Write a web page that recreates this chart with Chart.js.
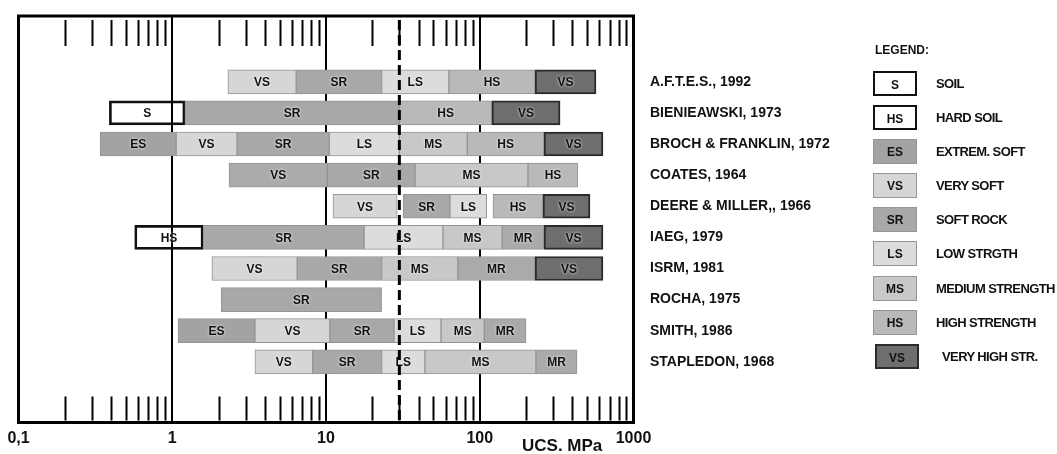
<!DOCTYPE html>
<html>
<head>
<meta charset="utf-8">
<script src="https://cdn.jsdelivr.net/npm/chart.js@4.4.1/dist/chart.umd.min.js"></script>
<style>
  html, body { margin: 0; padding: 0; background: #fff; }
  #wrap { position: relative; width: 1057px; height: 454px; overflow: hidden; }
  #wrap canvas { position: absolute; left: 0; top: 0; }
  #legend { position: absolute; left: 873px; top: 44px; font-family: "Liberation Sans", Arial, sans-serif; font-weight: bold; color: #111; }
  #legend .title { font-size: 12px; height: 27px; line-height: 13px; margin-left: 2px; }
  #legend .item { position: relative; height: 34.1px; }
  #legend .box { position: absolute; left: 0; top: 0; width: 44px; height: 25px; box-sizing: border-box; text-align: center; line-height: 24px; font-size: 12px; }
  #legend .lbl { position: absolute; left: 63px; top: 0; line-height: 25px; font-size: 13px; letter-spacing: -0.6px; white-space: nowrap; }
</style>
</head>
<body>
<div id="wrap">
  <canvas id="c" width="1057" height="454"></canvas>
  <div id="legend"></div>
</div>
<script>
// ---- data ----
const rowNames = ['A.F.T.E.S., 1992', 'BIENIEAWSKI, 1973', 'BROCH & FRANKLIN, 1972', 'COATES, 1964',
  'DEERE & MILLER,, 1966', 'IAEG, 1979', 'ISRM, 1981', 'ROCHA, 1975', 'SMITH, 1986', 'STAPLEDON, 1968'];

// [class, from MPa, to MPa]
const aftes      = [['VS', 2.3, 6.4], ['SR', 6.4, 23], ['LS', 23, 63], ['HS', 63, 229], ['VHS', 229, 570]];
const bieniawski = [['S', 0.39, 1.21], ['SR', 1.21, 30], ['HS', 30, 120], ['VHS', 120, 333]];
const broch      = [['ES', 0.34, 1.06], ['VS', 1.06, 2.64], ['SR', 2.64, 10.5], ['LS', 10.5, 30], ['MS', 30, 83], ['HS', 83, 262], ['VHS', 262, 633]];
const coates     = [['VSg', 2.34, 10.2], ['SR', 10.2, 38], ['MS', 38, 206], ['HS', 206, 435]];
const deere      = [['VS', 11.1, 29], ['SR', 31.7, 64], ['LS', 64, 111], ['HS', 122, 258], ['VHS', 258, 521]];
const iaeg       = [['HSs', 0.57, 1.59], ['SR', 1.59, 17.7], ['LS', 17.7, 57.7], ['MS', 57.7, 140], ['MR', 140, 262], ['VHS', 262, 633]];
const isrm       = [['VS', 1.81, 6.5], ['SR', 6.5, 23], ['MS', 23, 72], ['MR', 72, 229], ['VHS', 229, 633]];
const rocha      = [['SR', 2.08, 23]];
const smith      = [['ES', 1.09, 3.45], ['VS', 3.45, 10.6], ['SR', 10.6, 27.7], ['LS', 27.7, 56], ['MS', 56, 107], ['MR', 107, 200]];
const stapledon  = [['VS', 3.45, 8.2], ['SR', 8.2, 23], ['LS', 23, 44], ['MS', 44, 232], ['MR', 232, 429]];

const xTickValues = [0.1, 1, 10, 100, 1000];
const referenceLine = 30;
const axisTitle = 'UCS. MPa';

const legendCodes = ['S', 'HSs', 'ES', 'VS', 'SR', 'LS', 'MS', 'HS', 'VHS'];
const legendNames = ['SOIL', 'HARD SOIL', 'EXTREM. SOFT', 'VERY SOFT', 'SOFT ROCK', 'LOW  STRGTH', 'MEDIUM STRENGTH', 'HIGH STRENGTH', 'VERY HIGH STR.'];

// ---- styles ----
const codeText = { S: 'S', HSs: 'HS', ES: 'ES', VS: 'VS', VSg: 'VS', SR: 'SR', LS: 'LS', MS: 'MS', HS: 'HS', MR: 'MR', VHS: 'VS' };
const fill = { S: 'rgba(255,255,255,0)', HSs: 'rgba(255,255,255,0)', ES: '#a3a3a3', VS: '#d6d6d6', VSg: '#ababab',
  SR: '#a8a8a8', LS: '#dcdcdc', MS: '#c8c8c8', HS: '#b9b9b9', MR: '#aaaaaa', VHS: '#6e6e6e' };
const edge = { S: '#111', HSs: '#111', VHS: '#2b2b2b' };
const edgeW = { S: 2, HSs: 2, VHS: 2 };

const rows = [aftes, bieniawski, broch, coates, deere, iaeg, isrm, rocha, smith, stapledon];

const datasets = rows.map((segs, i) => ({
  label: rowNames[i],
  data: segs.map(s => ({ x: [s[1], s[2]], y: i + 1 })),
  codes: segs.map(s => s[0]),
  backgroundColor: segs.map(s => fill[s[0]]),
  borderColor: segs.map(s => edge[s[0]] || '#959595'),
  borderWidth: segs.map(s => edgeW[s[0]] || 1),
  borderSkipped: false,
  barThickness: 24,
  grouped: false
}));

const FONT = '"Liberation Sans", Arial, sans-serif';

const decor = {
  id: 'decor',
  beforeDatasetsDraw(chart) {
    const { ctx, chartArea: a, scales: { x } } = chart;
    ctx.save();
    ctx.strokeStyle = '#000';
    ctx.lineWidth = 2;
    for (let d = 0.1; d < 1000; d *= 10) {
      for (let k = 2; k <= 9; k++) {
        const px = Math.round(x.getPixelForValue(k * d)) + 0.5;
        ctx.beginPath();
        ctx.moveTo(px, a.top + 4); ctx.lineTo(px, a.top + 30);
        ctx.moveTo(px, a.bottom - 26); ctx.lineTo(px, a.bottom - 2);
        ctx.stroke();
      }
    }
    ctx.restore();
  },
  afterDatasetsDraw(chart) {
    const { ctx, chartArea: a, scales: { x } } = chart;
    ctx.save();
    // segment labels
    ctx.font = 'bold 12px ' + FONT;
    ctx.textAlign = 'center';
    ctx.textBaseline = 'middle';
    chart.data.datasets.forEach((ds, di) => {
      const meta = chart.getDatasetMeta(di);
      meta.data.forEach((el, j) => {
        const cx = (el.x + el.base) / 2;
        const t = codeText[ds.codes[j]];
        ctx.shadowColor = 'rgba(255,255,255,0.9)';
        ctx.shadowBlur = 3;
        ctx.fillStyle = '#111';
        ctx.fillText(t, cx, el.y + 1);
      });
    });
    ctx.shadowBlur = 0;
    // dashed reference line
    const rx = x.getPixelForValue(referenceLine);
    ctx.strokeStyle = '#000';
    ctx.lineWidth = 3;
    ctx.setLineDash([10, 5]);
    ctx.beginPath();
    ctx.moveTo(rx, a.top + 4);
    ctx.lineTo(rx, a.bottom - 2);
    ctx.stroke();
    ctx.setLineDash([]);
    // frame
    ctx.lineWidth = 3;
    ctx.strokeRect(a.left, a.top, a.right - a.left, a.bottom - a.top);
    ctx.restore();
  },
  afterDraw(chart) {
    const { ctx, chartArea: a } = chart;
    ctx.save();
    ctx.font = 'bold 17px ' + FONT;
    ctx.fillStyle = '#111';
    ctx.textAlign = 'left';
    ctx.textBaseline = 'alphabetic';
    ctx.fillText(axisTitle, a.right - 111.5, chart.height - 3);
    ctx.restore();
  }
};

new Chart(document.getElementById('c'), {
  type: 'bar',
  data: { datasets },
  options: {
    indexAxis: 'y',
    responsive: false,
    animation: false,
    devicePixelRatio: 1,
    layout: { padding: { left: 18.5, top: 16, right: 0, bottom: 0 } },
    plugins: { legend: { display: false }, tooltip: { enabled: false } },
    scales: {
      x: {
        type: 'logarithmic',
        position: 'bottom',
        min: 0.1,
        max: 1000,
        offset: false,
        afterBuildTicks: s => { s.ticks = xTickValues.map(v => ({ value: v })); },
        afterFit: s => { s.paddingLeft = 0; s.paddingRight = 0; s.height = 31.5; },
        ticks: {
          autoSkip: false, maxRotation: 0, padding: 6, color: '#111',
          font: { family: FONT, size: 16, weight: 'bold' },
          callback: v => String(v).replace('.', ',')
        },
        grid: { color: '#000', lineWidth: 2, drawTicks: false },
        border: { display: true, color: '#000', width: 3 }
      },
      y: {
        type: 'linear',
        position: 'right',
        reverse: true,
        offset: false,
        bounds: 'data',
        min: -1.115,
        max: 11.951,
        afterBuildTicks: s => { s.ticks = rowNames.map((_, i) => ({ value: i + 1 })); },
        afterFit: s => { s.width = 1057 - 633.5; s.paddingTop = 0; s.paddingBottom = 0; },
        ticks: {
          padding: 16.5, color: '#111', crossAlign: 'near',
          font: { family: FONT, size: 14, weight: 'bold' },
          callback: v => rowNames[v - 1] || ''
        },
        grid: { display: false, drawTicks: false },
        border: { display: false }
      }
    }
  },
  plugins: [decor]
});

// legend (HTML)
const lg = document.getElementById('legend');
const t = document.createElement('div');
t.className = 'title';
t.textContent = 'LEGEND:';
lg.appendChild(t);
legendCodes.forEach((c, i) => {
  const it = document.createElement('div');
  it.className = 'item';
  const b = document.createElement('div');
  b.className = 'box';
  b.textContent = codeText[c];
  b.style.background = (c === 'S' || c === 'HSs') ? '#fff' : fill[c];
  b.style.border = (edgeW[c] || 1) + 'px solid ' + (edge[c] || '#959595');
  if (c === 'VHS') b.style.left = '2px';
  const l = document.createElement('div');
  l.className = 'lbl';
  l.textContent = legendNames[i];
  if (c === 'VHS') l.style.left = '69px';
  it.appendChild(b);
  it.appendChild(l);
  lg.appendChild(it);
});
</script>
</body>
</html>
